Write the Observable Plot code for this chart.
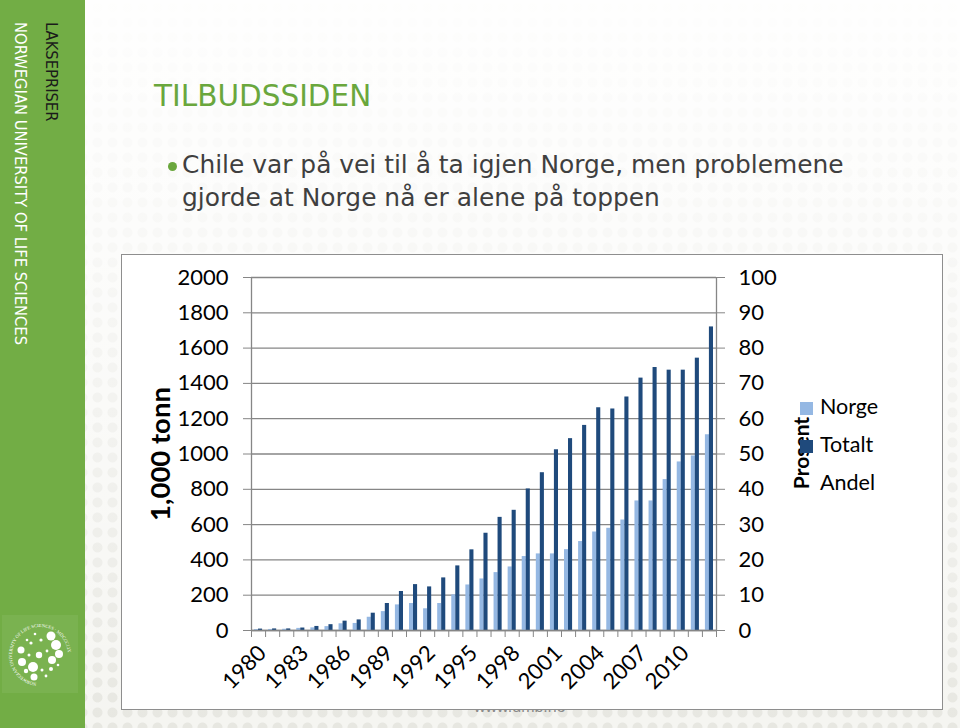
<!DOCTYPE html>
<html>
<head>
<meta charset="utf-8">
<script src="https://cdn.jsdelivr.net/npm/d3@7"></script>
<script src="https://cdn.jsdelivr.net/npm/@observablehq/plot@0.6"></script>
<style>
  html, body { margin: 0; padding: 0; }
  body {
    width: 960px; height: 728px; overflow: hidden; position: relative;
    background-color: #f5f5f1;
    background-image: radial-gradient(circle, #e7e7e1 4.5px, transparent 5.5px);
    background-size: 15px 15px;
    font-family: "DejaVu Sans", sans-serif;
  }
  #fade { position: absolute; left: 85px; top: 0; width: 875px; height: 728px;
    background: linear-gradient(to bottom, rgba(255,255,255,0.95) 0px, rgba(255,255,255,0.7) 250px, rgba(255,255,255,0.3) 560px, rgba(255,255,255,0.0) 728px); }
  #sidebar { position: absolute; left: 0; top: 0; width: 85px; height: 728px; background: #72ad45; }
  .vtext { position: absolute; writing-mode: vertical-rl; white-space: nowrap; font-size: 16.4px;
    font-family: "DejaVu Sans Condensed", "DejaVu Sans", sans-serif; font-stretch: condensed; }
  #lak { left: 42px; top: 22px; color: #1b1b1b; }
  #nmbu { left: 11px; top: 22px; color: #ffffff; }
  #logo { position: absolute; left: 2px; top: 615px; }
  #title { position: absolute; left: 154px; top: 79px; font-size: 29.5px; color: #6aa73d; white-space: nowrap; }
  #bullet { position: absolute; left: 168px; top: 162px; width: 9px; height: 9px; border-radius: 50%; background: #6aa73d; }
  #text { position: absolute; left: 182px; top: 148px; font-size: 24.9px; line-height: 33px; color: #3f3f3f; white-space: nowrap; }
  #www { position: absolute; left: 474px; top: 698px; font-size: 16px; color: #8a8a8a; font-family: "Liberation Sans", sans-serif; }
  #box { position: absolute; left: 121px; top: 254px; width: 820px; height: 454px; background: #ffffff; border: 1.5px solid #8e8e8e; }
  #chart { position: absolute; left: 0; top: 0; }
  .lbl { position: absolute; font-family: Lato, sans-serif; color: #000; white-space: nowrap; }
  #ylab { left: 37px; top: 199px; font-size: 27.5px; font-weight: bold; transform: translate(-50%, -50%) rotate(-90deg); }
  #ylab2 { left: 678px; top: 198px; font-size: 21px; font-weight: bold; transform: translate(-50%, -50%) rotate(-90deg); }
  .leg { position: absolute; left: 678px; font-family: Lato, sans-serif; font-size: 21.5px; color: #000; white-space: nowrap; }
  .sw { position: absolute; left: 0; width: 13px; height: 13px; }
</style>
</head>
<body>
<div id="fade"></div>
<div id="sidebar">
  <div class="vtext" id="lak">LAKSEPRISER</div>
  <div class="vtext" id="nmbu">NORWEGIAN UNIVERSITY OF LIFE SCIENCES</div>
  <svg id="logo" width="76" height="78" viewBox="0 0 76 78">
    <rect x="0" y="0" width="76" height="78" fill="#7ab250"/>
    <defs><path id="circ" d="M 38 68 A 28 28 0 1 1 38.01 68"/></defs>
    <text font-size="4.6" fill="#fff" font-family="Liberation Serif, serif">
      <textPath href="#circ" startOffset="2%">NORWEGIAN UNIVERSITY OF LIFE SCIENCES · MDCCCLIX</textPath>
    </text>
    <g fill="#fff">
      <circle cx="19" cy="35" r="3.5"/><circle cx="29" cy="28" r="1.6"/><circle cx="39" cy="25" r="1.6"/>
      <circle cx="49" cy="21" r="4.5"/><circle cx="54" cy="30" r="5"/><circle cx="57" cy="39" r="4"/>
      <circle cx="20" cy="47" r="4"/><circle cx="27" cy="40" r="1.5"/><circle cx="37" cy="40" r="3.2"/>
      <circle cx="45" cy="36" r="1.4"/><circle cx="50" cy="45" r="4"/><circle cx="31" cy="52" r="5"/>
      <circle cx="24" cy="56" r="2.2"/><circle cx="40" cy="55" r="1.5"/><circle cx="49" cy="54" r="2"/>
      <circle cx="32" cy="62" r="3.5"/><circle cx="44" cy="61" r="1.4"/><circle cx="56" cy="50" r="1.3"/>
      <circle cx="33" cy="19" r="1.3"/><circle cx="25" cy="25" r="1.3"/>
    </g>
  </svg>
</div>
<div id="title">TILBUDSSIDEN</div>
<div id="bullet"></div>
<div id="text">Chile var på vei til å ta igjen Norge, men problemene<br>gjorde at Norge nå er alene på toppen</div>
<div id="www">www.umb.no</div>
<div id="box">
  <div id="chart"></div>
  <div class="lbl" id="ylab">1,000 tonn</div>
  <div class="lbl" id="ylab2">Prosent</div>
  <div class="leg" style="top:138px;"><div class="sw" style="top:9px;background:#95b8e3;"></div><span style="margin-left:20px;">Norge</span></div>
  <div class="leg" style="top:176px;"><div class="sw" style="top:9px;background:#1f4a7c;"></div><span style="margin-left:20px;">Totalt</span></div>
  <div class="leg" style="top:214px;"><span style="margin-left:20px;">Andel</span></div>
</div>
<script>
// ---- data ----
const years = [1980,1981,1982,1983,1984,1985,1986,1987,1988,1989,1990,1991,1992,1993,1994,1995,1996,1997,1998,1999,2000,2001,2002,2003,2004,2005,2006,2007,2008,2009,2010,2011,2012];
const norge = [5,6,7,12,15,22,38,40,75,107,145,153,123,153,202,258,292,328,360,419,434,434,458,504,558,579,626,734,734,855,955,989,1109];
const totalt = [8,9,9,14,23,33,53,60,98,153,221,260,247,298,366,457,551,641,681,802,894,1024,1087,1162,1262,1255,1323,1430,1490,1475,1475,1543,1720];
const xLabelYears = [1980,1983,1986,1989,1992,1995,1998,2001,2004,2007,2010];
const leftTicks = [0,200,400,600,800,1000,1200,1400,1600,1800,2000];
const rightTicks = [0,10,20,30,40,50,60,70,80,90,100];

const rows = years.map((y, i) => ({year: y, norge: norge[i], totalt: totalt[i]}));
const firstYear = years[0], endYear = years[years.length - 1] + 1;
const boundaries = years.concat([endYear]);
const gray = "#868686";
const light = "#95b8e3", dark = "#1f4a7c";

const chart = Plot.plot({
  width: 820, height: 454,
  marginLeft: 129, marginRight: 226, marginTop: 22, marginBottom: 79,
  style: {fontFamily: "Lato, sans-serif", fontSize: "22px", color: "#000", background: "transparent", overflow: "visible"},
  x: {type: "linear", domain: [firstYear, endYear]},
  y: {domain: [0, 2000]},
  marks: [
    Plot.gridY(leftTicks, {stroke: gray, strokeOpacity: 1, strokeWidth: 1.3}),
    Plot.rect(rows, {x1: "year", x2: d => d.year + 1, y1: 0, y2: "norge", fill: light, insetLeft: 3, insetRight: 7}),
    Plot.rect(rows, {x1: "year", x2: d => d.year + 1, y1: 0, y2: "totalt", fill: dark, insetLeft: 7, insetRight: 3}),
    Plot.ruleY([0], {stroke: gray, strokeWidth: 1.3}),
    Plot.ruleX([firstYear, endYear], {stroke: gray, strokeWidth: 1.3}),
    Plot.axisY({anchor: "left", ticks: leftTicks, tickFormat: d => String(d), tickSize: 8, tickPadding: 15, stroke: gray, fill: "#000", label: null, fontSize: 22}),
    Plot.axisY({anchor: "right", ticks: rightTicks.map(p => p * 20), tickFormat: d => String(d / 20), tickSize: 8, tickPadding: 14, stroke: gray, fill: "#000", label: null, fontSize: 22}),
    Plot.axisX({ticks: boundaries, tickSize: 7, tickFormat: () => "", stroke: gray, label: null}),
    Plot.text(xLabelYears, {x: d => d + 0.5, y: 0, text: d => String(d), rotate: -45, textAnchor: "end", lineAnchor: "middle", dx: 4, dy: 19, fontSize: 22, fill: "#000"})
  ]
});
document.getElementById("chart").appendChild(chart);
</script>
</body>
</html>
